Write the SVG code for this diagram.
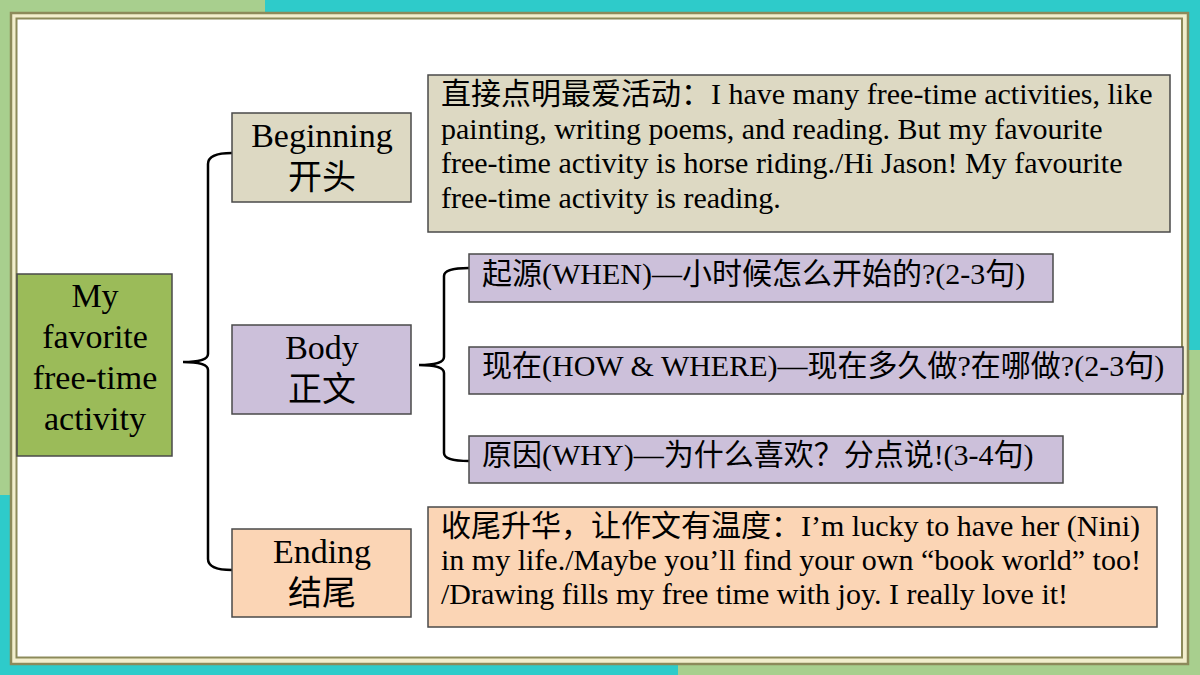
<svg xmlns="http://www.w3.org/2000/svg" width="1200" height="675" viewBox="0 0 1200 675">
<style>
.t{font-family:"Liberation Serif","Noto Sans CJK SC",serif;fill:#000}
.big{font-size:34px;text-anchor:middle}
.txt{font-size:30px}
.box{stroke:#4a4a4a;stroke-width:1.5}
.tan{fill:#ddd9c3}
.lav{fill:#ccc0da}
.peach{fill:#fbd5b5}
.brace{fill:none;stroke:#000;stroke-width:2.5}
</style>
<g id="background">
<rect x="0" y="0" width="1200" height="675" fill="#2ecbca"/>
<rect x="0" y="0" width="265" height="30" fill="#a8cf8e"/>
<rect x="0" y="0" width="30" height="495" fill="#a8cf8e"/>
<rect x="678" y="640" width="522" height="35" fill="#a8cf8e"/>
<rect x="1170" y="350" width="30" height="325" fill="#a8cf8e"/>
<rect x="11" y="13" width="1177" height="651" fill="#f2eecd" stroke="#8c8a5a" stroke-width="2.5"/>
<rect x="16.5" y="18.5" width="1165.5" height="639" fill="#ffffff" stroke="#8c8a5a" stroke-width="2"/>
</g>
<g id="connectors">
<path class="brace" d="M232,153 Q208,153 208,164 L208,354 Q208,362 183,362 Q208,362 208,370 L208,559 Q208,570 232,570"/>
<path class="brace" d="M469,268 Q444,268 444,276 L444,357 Q444,365 419,365 Q444,365 444,373 L444,453 Q444,461 469,461"/>
</g>
<g id="root">
<rect class="box" x="17" y="274" width="155" height="182" fill="#9bbb59"/>
<text class="t big" x="95" y="307">My</text>
<text class="t big" x="95" y="348">favorite</text>
<text class="t big" x="95" y="389">free-time</text>
<text class="t big" x="95" y="430">activity</text>
</g>
<g id="beginning">
<rect class="box tan" x="232" y="113" width="179" height="89"/>
<text class="t big" x="322" y="147">Beginning</text>
<text class="t big" x="322" y="189">开头</text>
</g>
<g id="body">
<rect class="box lav" x="232" y="325" width="179" height="89"/>
<text class="t big" x="322" y="359">Body</text>
<text class="t big" x="322" y="401">正文</text>
</g>
<g id="ending">
<rect class="box peach" x="232" y="529" width="179" height="88"/>
<text class="t big" x="322" y="563">Ending</text>
<text class="t big" x="322" y="605">结尾</text>
</g>
<g id="beginning-text">
<rect class="box tan" x="428" y="75" width="742" height="157"/>
<text class="t txt" x="441" y="104">直接点明最爱活动：I have many free-time activities, like</text>
<text class="t txt" x="441" y="139">painting, writing poems, and reading. But my favourite</text>
<text class="t txt" x="441" y="173">free-time activity is horse riding./Hi Jason! My favourite</text>
<text class="t txt" x="441" y="208">free-time activity is reading.</text>
</g>
<g id="when">
<rect class="box lav" x="469" y="254" width="584" height="48"/>
<text class="t txt" x="482" y="284">起源(WHEN)—小时候怎么开始的?(2-3句)</text>
</g>
<g id="how">
<rect class="box lav" x="469" y="347" width="714" height="47"/>
<text class="t txt" x="482" y="376">现在(HOW &amp; WHERE)—现在多久做?在哪做?(2-3句)</text>
</g>
<g id="why">
<rect class="box lav" x="469" y="436" width="594" height="47"/>
<text class="t txt" x="482" y="465">原因(WHY)—为什么喜欢？分点说!(3-4句)</text>
</g>
<g id="ending-text">
<rect class="box peach" x="428" y="507" width="729" height="120"/>
<text class="t txt" x="441" y="536">收尾升华，让作文有温度：I’m lucky to have her (Nini)</text>
<text class="t txt" x="441" y="570">in my life./Maybe you’ll find your own “book world” too!</text>
<text class="t txt" x="441" y="604">/Drawing fills my free time with joy. I really love it!</text>
</g>
</svg>
